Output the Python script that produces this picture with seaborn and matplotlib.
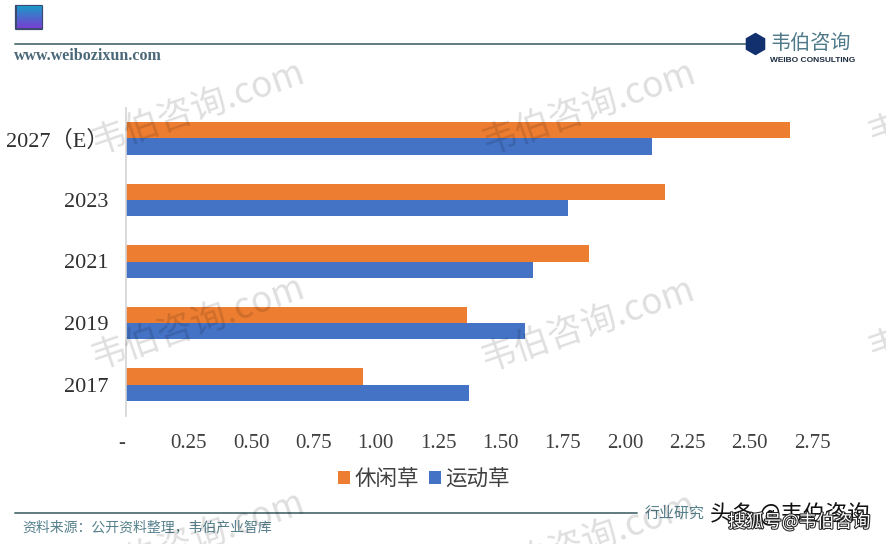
import numpy as np
import pandas as pd
import matplotlib
matplotlib.use("Agg")
import matplotlib.pyplot as plt
import matplotlib.patheffects as pe
from matplotlib.patches import RegularPolygon
from matplotlib.transforms import ScaledTranslation
import seaborn as sns

# === 数据 ===
YEARS = ["2027（E）", "2023", "2021", "2019", "2017"]
LEISURE = [2.66, 2.16, 1.855, 1.365, 0.95]
SPORT = [2.11, 1.77, 1.63, 1.60, 1.375]
SERIES = ["休闲草", "运动草"]
XTICKS = [0, 0.25, 0.5, 0.75, 1.0, 1.25, 1.5, 1.75, 2.0, 2.25, 2.5, 2.75]
XLABELS = ["-", "0.25", "0.50", "0.75", "1.00", "1.25", "1.50", "1.75", "2.00", "2.25", "2.50", "2.75"]
SOURCE = "资料来源：公开资料整理，韦伯产业智库"

W, H = 887, 544
SERIF = ["Liberation Serif", "Noto Sans CJK SC"]
CJK = ["Noto Sans CJK SC", "DejaVu Sans"]

sns.set_theme(style="white")
plt.rcParams['font.family'] = CJK

df = pd.DataFrame({
    'year': YEARS * 2,
    'value': LEISURE + SPORT,
    'kind': [SERIES[0]] * 5 + [SERIES[1]] * 5,
})

fig = plt.figure(figsize=(W / 100, H / 100), dpi=100, facecolor="white")

# 主图
left, right, top, bottom = 126.5, 824.5, 107.5, 415.5
ax = fig.add_axes([left / W, 1 - bottom / H, (right - left) / W, (bottom - top) / H], zorder=1)
sns.barplot(data=df, x='value', y='year', hue='kind', order=YEARS, hue_order=SERIES,
            palette=["#ED7D31", "#4472C4"], orient='h', width=0.53, gap=0, saturation=1,
            linewidth=0, ax=ax)
ax.set_xlim(0, 2.8)
ax.set_xlabel("")
ax.set_ylabel("")
ax.set_xticks(XTICKS)
ax.set_xticklabels(XLABELS, family=SERIF, fontsize=15, color="#404040")
ax.set_yticks(range(len(YEARS)))
ax.set_yticklabels(YEARS, family=SERIF, fontsize=16, color="#303030")
ax.tick_params(axis='x', length=0, pad=13)
ax.tick_params(axis='y', length=0, pad=13)
# "-" 比其他刻度略靠左
lab0 = ax.get_xticklabels()[0]
lab0.set_transform(lab0.get_transform() + ScaledTranslation(-5 / 100, 0, fig.dpi_scale_trans))
for s in ['top', 'right', 'bottom']:
    ax.spines[s].set_visible(False)
ax.spines['left'].set_color("#d4d4d4")
ax.spines['left'].set_linewidth(1.2)
ax.legend(ncol=2, frameon=False, loc="center", bbox_to_anchor=(424 / W, 1 - 479 / H),
          bbox_transform=fig.transFigure, prop={'family': CJK, 'size': 15.5},
          handlelength=0.56, handleheight=0.56, handletextpad=0.2, columnspacing=0.45,
          labelcolor="#404040")

# 全图像素坐标层：页眉、页脚、水印
over = fig.add_axes([0, 0, 1, 1], zorder=2)
over.patch.set_alpha(0)
over.axis("off")
grad = np.linspace(0, 1, 24)[:, None, None] * np.array([[[88, -85, 10]]]) + np.array([[[30, 150, 200]]])
over.imshow(grad.astype(np.uint8), extent=(17, 42, 28, 6), aspect="auto", zorder=3)
over.plot([16.5, 42.5, 42.5, 16.5, 16.5], [5.5, 5.5, 28.5, 28.5, 5.5], color="#3a4a70", lw=1.6)
over.set_xlim(0, W)
over.set_ylim(H, 0)
over.plot([15, 748], [44, 44], color="#5f7c80", lw=1.4)
over.add_patch(RegularPolygon((755.5, 44), 6, radius=10.5, color="#12306e", zorder=4))
over.text(14, 56, "www.weibozixun.com", family=SERIF, fontsize=11.5, color="#4a6878",
          ha="left", va="center", weight="bold")
over.text(770, 43, "韦伯咨询", family=CJK, fontsize=14.5, color="#4f7a8a", ha="left", va="center")
over.text(770, 61, "WEIBO CONSULTING", family=["Liberation Sans"], fontsize=6, color="#1c2c40",
          ha="left", va="center", weight="bold")

# 页脚
over.plot([15, 637], [512.5, 512.5], color="#5f7c80", lw=1.4)
over.text(22, 527, SOURCE, family=CJK, fontsize=10, color="#55808c", ha="left", va="center")
over.text(645, 514, "行业研究", family=CJK, fontsize=10.8, color="#55808c", ha="left", va="center")
over.text(710, 514, "头条 @韦伯咨询", family=CJK, fontsize=16, color="#111111", ha="left", va="center")
over.text(728, 522, "搜狐号@韦伯咨询", family=CJK, fontsize=12.9, color="white", ha="left", va="center",
          path_effects=[pe.withStroke(linewidth=1.5, foreground="#222222")])

# 水印盖在最上层
for x, y in [(198, 108), (589, 108), (198, 323), (588, 325), (198, 538), (589, 540), (975, 100), (975, 315)]:
    over.text(x, y, "韦伯咨询.com", fontsize=25.5, color="black", alpha=0.13, rotation=19,
              ha="center", va="center", family=CJK, weight="light", clip_on=True, zorder=6)

fig.savefig("out.png", dpi=100)
